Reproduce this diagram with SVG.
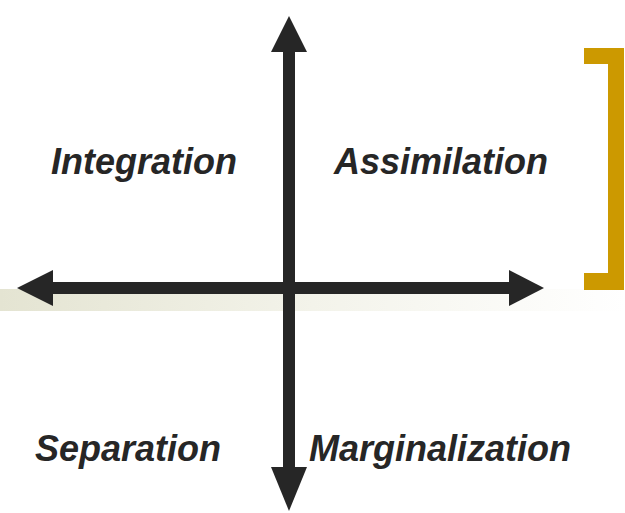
<svg xmlns="http://www.w3.org/2000/svg" width="625" height="513" viewBox="0 0 625 513">
<defs>
<linearGradient id="band" x1="0" y1="0" x2="1" y2="0">
<stop offset="0" stop-color="#e4e4d2"/>
<stop offset="0.5" stop-color="#f3f3ea"/>
<stop offset="1" stop-color="#ffffff"/>
</linearGradient>
<style>
.lbl{font-family:"Liberation Sans",Arial,sans-serif;font-size:36px;font-weight:bold;font-style:italic;fill:#262626}
.ax{fill:#262626}
.br{fill:#cc9900}
</style>
</defs>
<rect width="625" height="513" fill="#ffffff"/>
<rect x="0" y="289" width="625" height="22" fill="url(#band)"/>
<g id="connectors">
<g id="h-axis" class="ax">
<rect x="50" y="282" width="462" height="12"/>
<polygon points="17,288 53,270 53,306"/>
<polygon points="544,288 509,270 509,306"/>
</g>
<g id="v-axis" class="ax">
<rect x="283" y="50" width="12" height="420"/>
<polygon points="289,16 271,52 307,52"/>
<polygon points="289,511 271,467 307,467"/>
</g>
</g>
<g id="bracket" class="br">
<path d="M584,48 H624 V290 H584 V273 H608 V64 H584 Z"/>
</g>
<g id="integration"><text class="lbl" x="51" y="174">Integration</text></g>
<g id="assimilation"><text class="lbl" x="334" y="174">Assimilation</text></g>
<g id="separation"><text class="lbl" x="35" y="461">Separation</text></g>
<g id="marginalization"><text class="lbl" x="309" y="461">Marginalization</text></g>
</svg>
